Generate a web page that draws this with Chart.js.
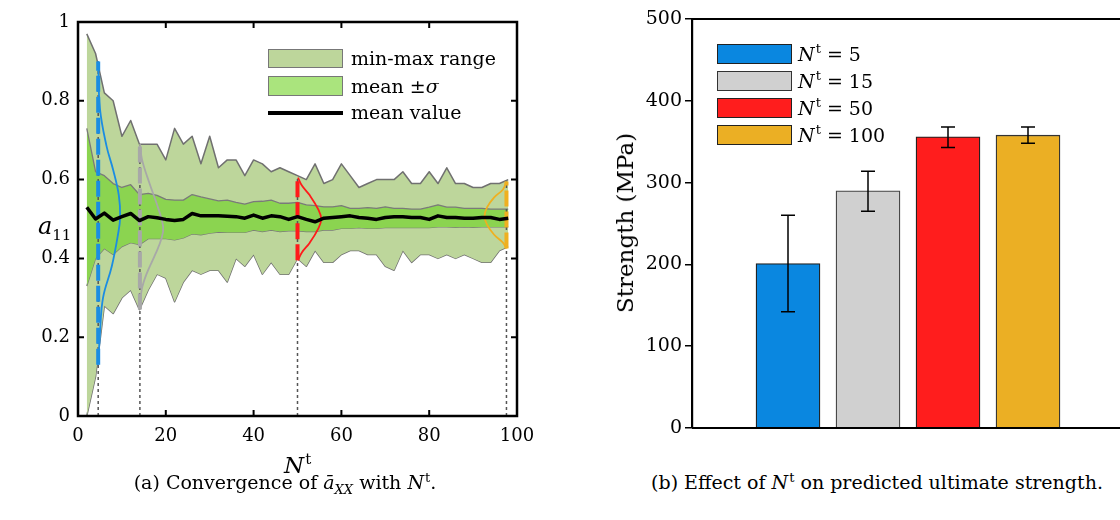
<!DOCTYPE html>
<html>
<head>
<meta charset="utf-8">
<script src="https://cdn.jsdelivr.net/npm/chart.js@4.4.0/dist/chart.umd.min.js"></script>
<style>
  body { margin: 0; background: #fff; width: 1120px; height: 520px; position: relative; overflow: hidden; font-family: "DejaVu Serif", serif; color: #000; }
  canvas { position: absolute; top: 0; }
  #cLeft { left: 0; }
  #cRight { left: 560px; }
  .txt { position: absolute; white-space: nowrap; line-height: 20px; }
  .sw { position: absolute; box-sizing: border-box; }
  .sup { font-style: normal; font-size: 13px; position: relative; top: -8px; margin-left: 1px; }
</style>
</head>
<body>
<canvas id="cLeft" width="560" height="460"></canvas>
<canvas id="cRight" width="560" height="460"></canvas>

<!-- legende gauche -->
<div class="sw" style="left:268px;top:49px;width:75px;height:19px;background:#bdd69b;border:1.5px solid #777"></div>
<div class="txt" style="left:351px;top:48px;font-size:19px">min-max range</div>
<div class="sw" style="left:268px;top:76px;width:75px;height:20px;background:#aae47d;border:1.5px solid #777"></div>
<div class="txt" style="left:351px;top:76px;font-size:19px">mean ±<i>σ</i></div>
<div class="sw" style="left:268px;top:111px;width:75px;height:4px;background:#000"></div>
<div class="txt" style="left:351px;top:102px;font-size:19px">mean value</div>

<!-- titres d'axes gauche -->
<div class="txt" style="left:38px;top:216px;font-size:24px"><i>a</i><span style="font-size:15px;position:relative;top:6px">11</span></div>
<div class="txt" style="left:284px;top:455px;font-size:23px"><i>N</i><span class="sup" style="font-size:15px;top:-9px">t</span></div>

<!-- legende droite -->
<div class="sw" style="left:717px;top:44px;width:75px;height:20px;background:#0a87e0;border:1.5px solid #222"></div>
<div class="txt" style="left:798px;top:44px;font-size:19px"><i>N</i><span class="sup">t</span> = 5</div>
<div class="sw" style="left:717px;top:71px;width:75px;height:20px;background:#d0d0d0;border:1.5px solid #333"></div>
<div class="txt" style="left:798px;top:71px;font-size:19px"><i>N</i><span class="sup">t</span> = 15</div>
<div class="sw" style="left:717px;top:98px;width:75px;height:20px;background:#ff1d1d;border:1.5px solid #222"></div>
<div class="txt" style="left:798px;top:98px;font-size:19px"><i>N</i><span class="sup">t</span> = 50</div>
<div class="sw" style="left:717px;top:125px;width:75px;height:20px;background:#ebaf24;border:1.5px solid #222"></div>
<div class="txt" style="left:798px;top:125px;font-size:19px"><i>N</i><span class="sup">t</span> = 100</div>

<!-- titre axe droit -->
<div class="txt" style="left:625px;top:223px;font-size:23px;line-height:26px;transform:translate(-50%,-50%) rotate(-90deg)">Strength (MPa)</div>

<!-- legendes des figures -->
<div class="txt" style="left:285px;top:472px;font-size:19px;transform:translateX(-50%)">(a) Convergence of <i>ā</i><span style="font-size:13px;position:relative;top:5px"><i>XX</i></span> with <i>N</i><span class="sup" style="font-size:13px;top:-7px">t</span>.</div>
<div class="txt" style="left:877px;top:472px;font-size:19px;transform:translateX(-50%)">(b) Effect of <i>N</i><span class="sup" style="font-size:13px;top:-7px">t</span> on predicted ultimate strength.</div>

<script>
// N^t (abscisse)
const ntVals = [2, 4, 6, 8, 10, 12, 14, 16, 18, 20, 22, 24, 26, 28, 30, 32, 34, 36, 38, 40, 42, 44, 46, 48, 50,
  52, 54, 56, 58, 60, 62, 64, 66, 68, 70, 72, 74, 76, 78, 80, 82, 84, 86, 88, 90, 92, 94, 96, 98];
const maxVals = [0.97, 0.92, 0.82, 0.80, 0.71, 0.75, 0.69, 0.69, 0.69, 0.65, 0.73, 0.69, 0.71, 0.64, 0.71, 0.63, 0.65, 0.65, 0.61, 0.65, 0.64, 0.62, 0.63, 0.62, 0.61,
  0.60, 0.64, 0.59, 0.60, 0.64, 0.61, 0.58, 0.59, 0.60, 0.60, 0.60, 0.62, 0.59, 0.59, 0.62, 0.59, 0.63, 0.59, 0.59, 0.58, 0.58, 0.59, 0.59, 0.60];
const minVals = [0.00, 0.10, 0.28, 0.26, 0.30, 0.32, 0.27, 0.32, 0.36, 0.35, 0.29, 0.34, 0.37, 0.36, 0.37, 0.37, 0.34, 0.40, 0.38, 0.41, 0.36, 0.39, 0.36, 0.36, 0.40,
  0.38, 0.42, 0.39, 0.39, 0.41, 0.42, 0.42, 0.41, 0.41, 0.38, 0.37, 0.42, 0.39, 0.41, 0.41, 0.40, 0.41, 0.40, 0.41, 0.40, 0.39, 0.39, 0.42, 0.43];
const meanVals = [0.53, 0.50, 0.515, 0.497, 0.506, 0.514, 0.496, 0.506, 0.503, 0.499, 0.496, 0.499, 0.514, 0.508, 0.508, 0.508, 0.507, 0.506, 0.502, 0.510, 0.502, 0.508, 0.506, 0.499, 0.506,
  0.499, 0.493, 0.502, 0.504, 0.506, 0.508, 0.504, 0.502, 0.499, 0.504, 0.506, 0.506, 0.504, 0.504, 0.499, 0.508, 0.504, 0.504, 0.502, 0.502, 0.504, 0.504, 0.499, 0.502];
const sigHiVals = [0.73, 0.62, 0.61, 0.59, 0.58, 0.587, 0.562, 0.565, 0.56, 0.55, 0.548, 0.548, 0.562, 0.556, 0.551, 0.546, 0.548, 0.542, 0.538, 0.544, 0.545, 0.548, 0.540, 0.540, 0.542,
  0.536, 0.534, 0.531, 0.531, 0.534, 0.527, 0.527, 0.529, 0.527, 0.531, 0.527, 0.527, 0.525, 0.525, 0.530, 0.536, 0.530, 0.530, 0.527, 0.527, 0.527, 0.525, 0.525, 0.525];
const sigLoVals = [0.33, 0.40, 0.425, 0.41, 0.43, 0.44, 0.435, 0.45, 0.45, 0.45, 0.447, 0.452, 0.462, 0.46, 0.464, 0.467, 0.466, 0.466, 0.466, 0.472, 0.468, 0.472, 0.468, 0.470, 0.470,
  0.468, 0.468, 0.472, 0.472, 0.476, 0.476, 0.478, 0.476, 0.476, 0.478, 0.478, 0.478, 0.478, 0.478, 0.478, 0.480, 0.480, 0.479, 0.480, 0.479, 0.480, 0.480, 0.480, 0.480];

// distributions (courbes en cloche couchees)
const blueCurveX = [4.6, 5.0, 6.5, 8.0, 9.3, 9.6, 9.1, 7.7, 5.7, 5.0, 4.6];
const blueCurveY = [0.90, 0.78, 0.685, 0.625, 0.56, 0.505, 0.46, 0.38, 0.30, 0.21, 0.13];
const grayCurveX = [14.1, 14.6, 16.3, 18.2, 19.4, 19.0, 17.6, 15.6, 14.5, 14.1];
const grayCurveY = [0.69, 0.65, 0.59, 0.53, 0.48, 0.45, 0.41, 0.36, 0.32, 0.27];
const redCurveX = [50.1, 51.0, 52.8, 54.7, 55.4, 54.7, 52.8, 51.0, 50.1];
const redCurveY = [0.605, 0.585, 0.56, 0.525, 0.50, 0.475, 0.44, 0.415, 0.395];
const orangeCurveX = [97.6, 96.8, 94.8, 93.2, 92.6, 93.2, 94.8, 96.8, 97.6];
const orangeCurveY = [0.595, 0.575, 0.555, 0.53, 0.507, 0.485, 0.46, 0.44, 0.425];

// lignes verticales aux N^t choisis
const markNt = [4.6, 14.1, 50, 97.6];
const markLow = [0.13, 0.27, 0.395, 0.425];
const markHigh = [0.90, 0.69, 0.605, 0.595];
const markColors = ['#1b8de2', '#a8a8a8', '#ff1a1a', '#efb020'];

// figure (b)
const strengthCats = ['5', '15', '50', '100'];
const strengthVals = [201, 290, 356, 358];
const errLow = [142, 265, 343, 348];
const errHigh = [260, 314, 368, 368];
const barColors = ['#0a87e0', '#d0d0d0', '#ff1d1d', '#ebaf24'];
const barBorders = ['#222', '#444', '#222', '#333'];

const serif = '"DejaVu Serif", serif';
const pts = (xs, ys) => xs.map((v, i) => ({ x: v, y: ys[i] }));

// cadre + ticks vers l'interieur
const frameLeft = {
  id: 'frameLeft',
  afterDraw(chart) {
    const { ctx, chartArea: a, scales: { x, y } } = chart;
    ctx.save();
    ctx.strokeStyle = '#000';
    ctx.lineWidth = 2;
    ctx.beginPath();
    x.ticks.forEach(t => {
      const px = x.getPixelForValue(t.value);
      ctx.moveTo(px, a.bottom); ctx.lineTo(px, a.bottom - 6);
      ctx.moveTo(px, a.top); ctx.lineTo(px, a.top + 6);
    });
    y.ticks.forEach(t => {
      const py = y.getPixelForValue(t.value);
      ctx.moveTo(a.left, py); ctx.lineTo(a.left + 6, py);
      ctx.moveTo(a.right, py); ctx.lineTo(a.right - 6, py);
    });
    ctx.stroke();
    ctx.lineWidth = 2.5;
    ctx.strokeRect(a.left, a.top, a.right - a.left, a.bottom - a.top);
    ctx.restore();
  }
};

const leftSets = [
  { data: pts(ntVals, maxVals), borderColor: '#707070', borderWidth: 1.5, backgroundColor: '#bdd69b', fill: 1, order: 6 },
  { data: pts(ntVals, minVals), borderColor: '#707070', borderWidth: 1.5, fill: false, order: 6 },
  { data: pts(ntVals, sigHiVals), borderColor: '#7a7a7a', borderWidth: 1.3, backgroundColor: '#8bd450', fill: 3, order: 5 },
  { data: pts(ntVals, sigLoVals), borderColor: '#7a7a7a', borderWidth: 1.3, fill: false, order: 5 }
];
markNt.forEach((n, i) => {
  leftSets.push({ data: pts([n, n], [0, markHigh[i]]), borderColor: '#555', borderWidth: 1.5, borderDash: [3, 3], fill: false, order: 4 });
});
markNt.forEach((n, i) => {
  leftSets.push({ data: pts([n, n], [markLow[i], markHigh[i]]), borderColor: markColors[i], borderWidth: 4, borderDash: [16, 5], fill: false, order: 3 });
});
[[blueCurveX, blueCurveY], [grayCurveX, grayCurveY], [redCurveX, redCurveY], [orangeCurveX, orangeCurveY]].forEach((c, i) => {
  leftSets.push({ data: pts(c[0], c[1]), borderColor: markColors[i], borderWidth: 1.8, tension: 0.4, fill: false, order: 2 });
});
leftSets.push({ data: pts(ntVals, meanVals), borderColor: '#000', borderWidth: 3.5, fill: false, order: 0 });

new Chart(document.getElementById('cLeft'), {
  type: 'line',
  data: { datasets: leftSets },
  options: {
    responsive: false,
    animation: false,
    events: [],
    layout: { padding: { top: 22, right: 43, left: 0, bottom: 0 } },
    elements: { point: { radius: 0 }, line: { borderJoinStyle: 'round' } },
    plugins: { legend: { display: false }, tooltip: { enabled: false } },
    scales: {
      x: {
        type: 'linear', min: 0, max: 100,
        grid: { display: false, drawTicks: false }, border: { display: false },
        ticks: { stepSize: 20, color: '#000', padding: 10, font: { family: serif, size: 18 } },
        afterFit: s => { s.height = 44; }
      },
      y: {
        min: 0, max: 1,
        grid: { display: false, drawTicks: false }, border: { display: false },
        ticks: { stepSize: 0.2, color: '#000', padding: 8, font: { family: serif, size: 18 },
          callback: v => String(Number(v.toFixed(1))) },
        afterFit: s => { s.width = 78; }
      }
    }
  },
  plugins: [frameLeft]
});

// barres d'erreur + cadre (b)
const errBars = {
  id: 'errBars',
  afterDatasetsDraw(chart) {
    const { ctx, chartArea: a, scales: { x, y } } = chart;
    ctx.save();
    ctx.strokeStyle = '#000';
    ctx.lineWidth = 1.5;
    ctx.beginPath();
    strengthCats.forEach((c, i) => {
      const px = x.getPixelForValue(i + 1);
      const y1 = y.getPixelForValue(errHigh[i]);
      const y2 = y.getPixelForValue(errLow[i]);
      ctx.moveTo(px, y1); ctx.lineTo(px, y2);
      ctx.moveTo(px - 7, y1); ctx.lineTo(px + 7, y1);
      ctx.moveTo(px - 7, y2); ctx.lineTo(px + 7, y2);
    });
    ctx.stroke();
    ctx.lineWidth = 2.2;
    ctx.beginPath();
    ctx.moveTo(a.left, a.top); ctx.lineTo(a.right, a.top);
    ctx.moveTo(a.left, a.bottom); ctx.lineTo(a.right, a.bottom);
    ctx.stroke();
    ctx.restore();
  }
};

new Chart(document.getElementById('cRight'), {
  type: 'bar',
  data: {
    datasets: strengthCats.map((c, i) => ({
      label: 'N^t = ' + c,
      data: [{ x: i + 1, y: strengthVals[i] }],
      backgroundColor: barColors[i],
      borderColor: barBorders[i],
      borderWidth: 1.3,
      barThickness: 64,
      grouped: false
    }))
  },
  options: {
    responsive: false,
    animation: false,
    events: [],
    layout: { padding: { top: 19, right: 0, left: 0, bottom: 32 } },
    plugins: { legend: { display: false }, tooltip: { enabled: false } },
    scales: {
      x: { type: 'linear', min: -0.2, max: 5.15, offset: false, display: false },
      y: {
        min: 0, max: 500,
        grid: { drawOnChartArea: false, drawTicks: true, tickLength: 7, color: '#000', lineWidth: 1.5 },
        border: { display: true, color: '#000', width: 2.2 },
        ticks: { stepSize: 100, color: '#000', padding: 3, font: { family: serif, size: 19 } },
        afterFit: s => { s.width = 132; }
      }
    }
  },
  plugins: [errBars]
});
</script>
</body>
</html>
